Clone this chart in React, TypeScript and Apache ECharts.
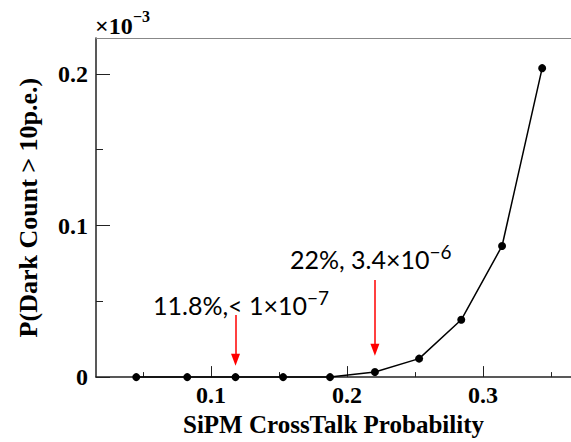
import React, { useEffect, useRef } from "react";
import * as echarts from "echarts";

// SiPM cross-talk probability (x) vs P(dark count > 10 p.e.) in units of 1e-3 (y)
const crossTalk = [0.045, 0.0825, 0.118, 0.153, 0.1875, 0.2205, 0.253, 0.284, 0.314, 0.3435];
const darkCountProb = [0, 0, 0, 0, 0, 0.0034, 0.0122, 0.0378, 0.0865, 0.2038];

const xMajorTicks = [0.1, 0.2, 0.3];
const xMinorTicks = [0.05, 0.15, 0.25, 0.35];
const yMajorTicks = [0, 0.1, 0.2];
const yMinorTicks = [0.05, 0.15];

const xName = "SiPM CrossTalk Probability";
const yName = "P(Dark Count > 10p.e.)";
const yScaleLabel = "×10";
const yScaleExp = "−3";

// annotation arrows: x position, arrow top and end (y in 1e-3 units)
const arrowX = [0.118, 0.2205];
const arrowTop = [0.041, 0.0641];
const arrowEnd = [0.0114, 0.018];
const annoText = ["11.8%,< 1×10", "22%, 3.4×10"];
const annoExp = ["−7", "−6"];

const SERIF = "Liberation Serif";
const SANS = "Lato";

export default function App() {
  const ref = useRef<HTMLDivElement>(null);
  useEffect(() => {
    if (!ref.current) return;
    const chart = echarts.init(ref.current, null, { renderer: "svg" });
    const xMin = 0.0154;
    const xMax = 0.3647;
    const yMin = 0;
    const yMax = 0.2237;
    const axisColor = "#222";
    const labelStyle = {
      fontFamily: SERIF,
      fontWeight: "bold" as const,
      fontSize: 24,
      color: "#000",
    };
    const annoRich = {
      a: { fontFamily: SANS, fontSize: 25, color: "#000", lineHeight: 30, verticalAlign: "bottom" },
      b: { fontFamily: SANS, fontSize: 19, color: "#000", lineHeight: 20, verticalAlign: "top", padding: [1, 0, 0, 0] },
    };
    const annoPos = [
      [153, 287],
      [290, 241],
    ];
    chart.setOption({
      animation: false,
      backgroundColor: "#fff",
      textStyle: { fontFamily: SERIF },
      grid: { left: 96, right: 0, top: 38, bottom: 55, containLabel: false },
      xAxis: [
        {
          type: "value",
          min: xMin,
          max: xMax,
          position: "bottom",
          axisLine: { show: true, onZero: false, lineStyle: { color: axisColor, width: 1.5 } },
          axisTick: { show: true, inside: true, length: 11, customValues: xMajorTicks, lineStyle: { color: axisColor, width: 1 } },
          axisLabel: { show: true, customValues: xMajorTicks, margin: 6, ...labelStyle },
          splitLine: { show: false },
          name: xName,
          nameLocation: "middle",
          nameGap: 29,
          nameTextStyle: { ...labelStyle, fontSize: 25 },
        },
        {
          type: "value",
          min: xMin,
          max: xMax,
          position: "bottom",
          axisLine: { show: false, onZero: false },
          axisTick: { show: true, inside: true, length: 5, customValues: xMinorTicks, lineStyle: { color: axisColor, width: 1 } },
          axisLabel: { show: false },
          splitLine: { show: false },
        },
        {
          type: "value",
          min: xMin,
          max: xMax,
          position: "top",
          axisLine: { show: true, onZero: false, lineStyle: { color: "#888", width: 1.2 } },
          axisTick: { show: false },
          axisLabel: { show: false },
          splitLine: { show: false },
        },
      ],
      yAxis: [
        {
          type: "value",
          min: yMin,
          max: yMax,
          position: "left",
          axisLine: { show: true, onZero: false, lineStyle: { color: axisColor, width: 1.5 } },
          axisTick: { show: true, inside: true, length: 14, customValues: yMajorTicks, lineStyle: { color: axisColor, width: 1 } },
          axisLabel: {
            show: true,
            customValues: yMajorTicks,
            margin: 8,
            formatter: (v: number) => (v === 0 ? "0" : String(Math.round(v * 10) / 10)),
            ...labelStyle,
          },
          splitLine: { show: false },
          name: yName,
          nameLocation: "middle",
          nameRotate: 90,
          nameGap: 55,
          nameTextStyle: { ...labelStyle, fontSize: 26 },
        },
        {
          type: "value",
          min: yMin,
          max: yMax,
          position: "left",
          axisLine: { show: false, onZero: false },
          axisTick: { show: true, inside: true, length: 7, customValues: yMinorTicks, lineStyle: { color: axisColor, width: 1 } },
          axisLabel: { show: false },
          splitLine: { show: false },
        },
      ],
      series: [
        {
          type: "line",
          xAxisIndex: 0,
          yAxisIndex: 0,
          data: crossTalk.map((x, i) => [x, darkCountProb[i]]),
          symbol: "circle",
          symbolSize: 8,
          clip: false,
          itemStyle: { color: "#000" },
          lineStyle: { color: "#000", width: 1.5 },
          markLine: {
            silent: true,
            symbol: ["none", "triangle"],
            symbolSize: [9, 12],
            label: { show: false },
            lineStyle: { color: "#ff0000", width: 1.5, type: "solid" },
            data: arrowX.map((x, i) => [
              { coord: [x, arrowTop[i]] },
              { coord: [x, arrowEnd[i]] },
            ]),
          },
        },
      ],
      graphic: [
        {
          type: "text",
          x: 95,
          y: 26,
          style: {
            text: yScaleLabel,
            fontFamily: SERIF,
            fontWeight: "bold",
            fontSize: 24,
            fill: "#000",
            verticalAlign: "middle",
            align: "left",
          },
        },
        {
          type: "text",
          x: 133,
          y: 16,
          style: {
            text: yScaleExp,
            fontFamily: SERIF,
            fontWeight: "bold",
            fontSize: 16,
            fill: "#000",
            verticalAlign: "middle",
            align: "left",
          },
        },
        ...annoText.map((t, i) => ({
          type: "text",
          x: annoPos[i][0],
          y: annoPos[i][1],
          style: {
            text: `{a|${t}}{b|${annoExp[i]}}`,
            rich: annoRich,
          },
        })),
      ],
    });
    return () => chart.dispose();
  }, []);
  return (
    <div
      ref={ref}
      style={{ position: "fixed", left: 0, top: 0, width: 571, height: 442, background: "#fff" }}
    />
  );
}
